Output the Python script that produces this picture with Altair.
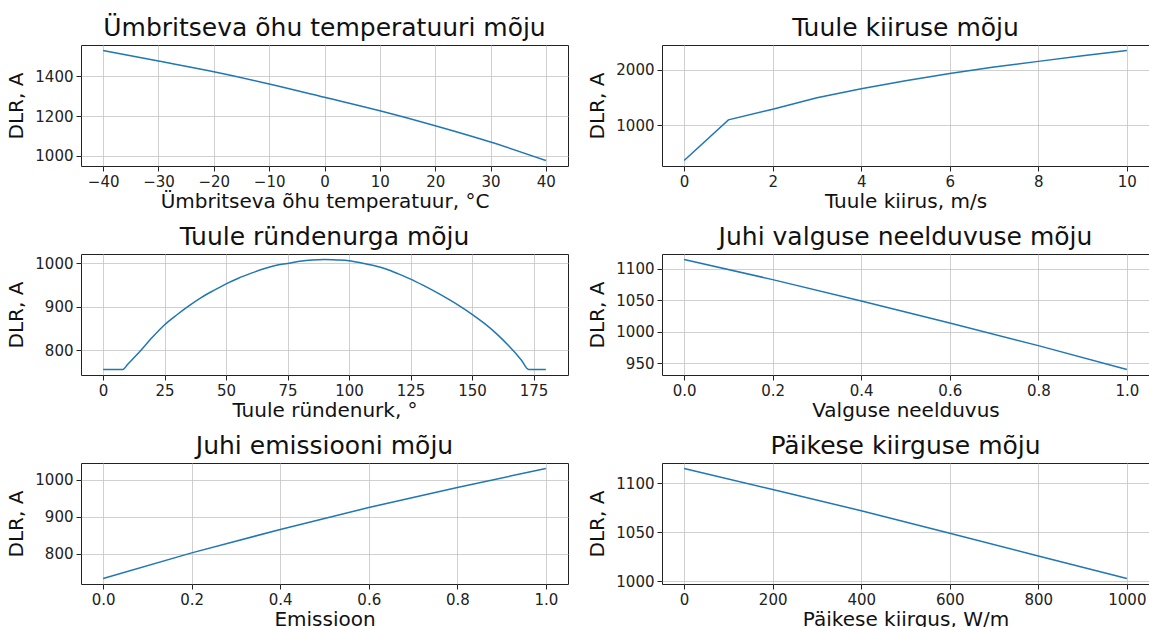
import altair as alt
import pandas as pd

# Panel 1: ambient temperature
temp_x = [-40, -30, -20, -10, 0, 10, 20, 30, 40]
temp_y = [1530, 1477, 1423, 1362, 1295, 1227, 1152, 1070, 977]

# Panel 2: wind speed
wind_x = [0, 1, 2, 3, 4, 5, 6, 7, 8, 9, 10]
wind_y = [369, 1101, 1292, 1500, 1661, 1804, 1935, 2054, 2155, 2256, 2351]

# Panel 3: wind angle
angle_x = [0, 8, 10, 15, 20, 25, 30, 35, 40, 45, 50, 55, 60, 65, 70, 75, 80,
           85, 90, 95, 100, 105, 110, 115, 120, 125, 130, 135, 140, 145, 150,
           155, 160, 165, 170, 173, 180]
angle_y = [756, 756, 768, 798, 830, 859, 882, 903, 922, 938, 953, 966, 977,
           987, 995, 1000, 1005, 1008, 1009, 1008, 1006, 1001, 995, 987, 976,
           964, 950, 935, 919, 902, 883, 862, 838, 810, 778, 756, 756]

# Panel 4: absorptivity
abs_x = [0.0, 0.2, 0.4, 0.6, 0.8, 1.0]
abs_y = [1115, 1083, 1049, 1014, 978, 940]

# Panel 5: emissivity
emis_x = [0.0, 0.2, 0.4, 0.6, 0.8, 1.0]
emis_y = [734, 803, 866, 925, 979, 1030]

# Panel 6: solar radiation
sol_x = [0, 200, 400, 600, 800, 1000]
sol_y = [1115, 1093.6, 1072, 1049, 1026, 1003]

titles = [
    "Ümbritseva õhu temperatuuri mõju",
    "Tuule kiiruse mõju",
    "Tuule ründenurga mõju",
    "Juhi valguse neelduvuse mõju",
    "Juhi emissiooni mõju",
    "Päikese kiirguse mõju",
]
xtitles = [
    "Ümbritseva õhu temperatuur, °C",
    "Tuule kiirus, m/s",
    "Tuule ründenurk, °",
    "Valguse neelduvus",
    "Emissioon",
    "Päikese kiirgus, W/m",
]
xticks = [
    [-40, -30, -20, -10, 0, 10, 20, 30, 40],
    [0, 2, 4, 6, 8, 10],
    [0, 25, 50, 75, 100, 125, 150, 175],
    [0.0, 0.2, 0.4, 0.6, 0.8, 1.0],
    [0.0, 0.2, 0.4, 0.6, 0.8, 1.0],
    [0, 200, 400, 600, 800, 1000],
]
xformats = ["d", "d", "d", ".1f", ".1f", "d"]
yticks = [
    [1000, 1200, 1400],
    [1000, 2000],
    [800, 900, 1000],
    [950, 1000, 1050, 1100],
    [800, 900, 1000],
    [1000, 1050, 1100],
]
series = [(temp_x, temp_y), (wind_x, wind_y), (angle_x, angle_y),
          (abs_x, abs_y), (emis_x, emis_y), (sol_x, sol_y)]

FONT = "DejaVu Sans"


def padded(vals):
    lo, hi = min(vals), max(vals)
    m = (hi - lo) * 0.05
    return [lo - m, hi + m]


def panel(i):
    xs, ys = series[i]
    df = pd.DataFrame({"x": xs, "y": ys})
    return (
        alt.Chart(df)
        .mark_line(color="#1f77b4", strokeWidth=1.5, clip=True,
                   interpolate="monotone" if i in (0, 2) else "linear")
        .encode(
            x=alt.X("x:Q",
                    scale=alt.Scale(domain=padded(xs), nice=False, zero=False),
                    axis=alt.Axis(title=xtitles[i], values=xticks[i],
                                  format=xformats[i])),
            y=alt.Y("y:Q",
                    scale=alt.Scale(domain=padded(ys), nice=False, zero=False),
                    axis=alt.Axis(title="DLR, A", values=yticks[i], format="d")),
        )
        .properties(
            width=487, height=121,
            title=alt.TitleParams(titles[i], fontSize=25, font=FONT,
                                  fontWeight="normal", color="#111",
                                  anchor="middle", frame="group", offset=4),
        )
    )


chart = (
    alt.concat(*[panel(i) for i in range(6)], columns=2,
               spacing={"row": 88, "column": 94}, bounds="flush")
    .properties(
        autosize=alt.AutoSizeParams(type="none"),
        padding={"left": 81, "top": 45, "right": 1068, "bottom": 582},
        background="white",
    )
    .configure_view(stroke="#222", strokeWidth=1)
    .configure_axis(
        labelFont=FONT, titleFont=FONT, labelFontSize=15, titleFontSize=20,
        labelColor="#222", titleColor="#111", titleFontWeight="normal",
        tickColor="#222", tickSize=5, domain=False,
        gridColor="#c4c4c4", gridWidth=0.8,
        labelPadding=3,
    )
    .configure_axisX(titlePadding=2)
    .configure_axisY(titlePadding=8)
)

chart.save("out.html", embed_options={"renderer": "svg", "actions": False})
